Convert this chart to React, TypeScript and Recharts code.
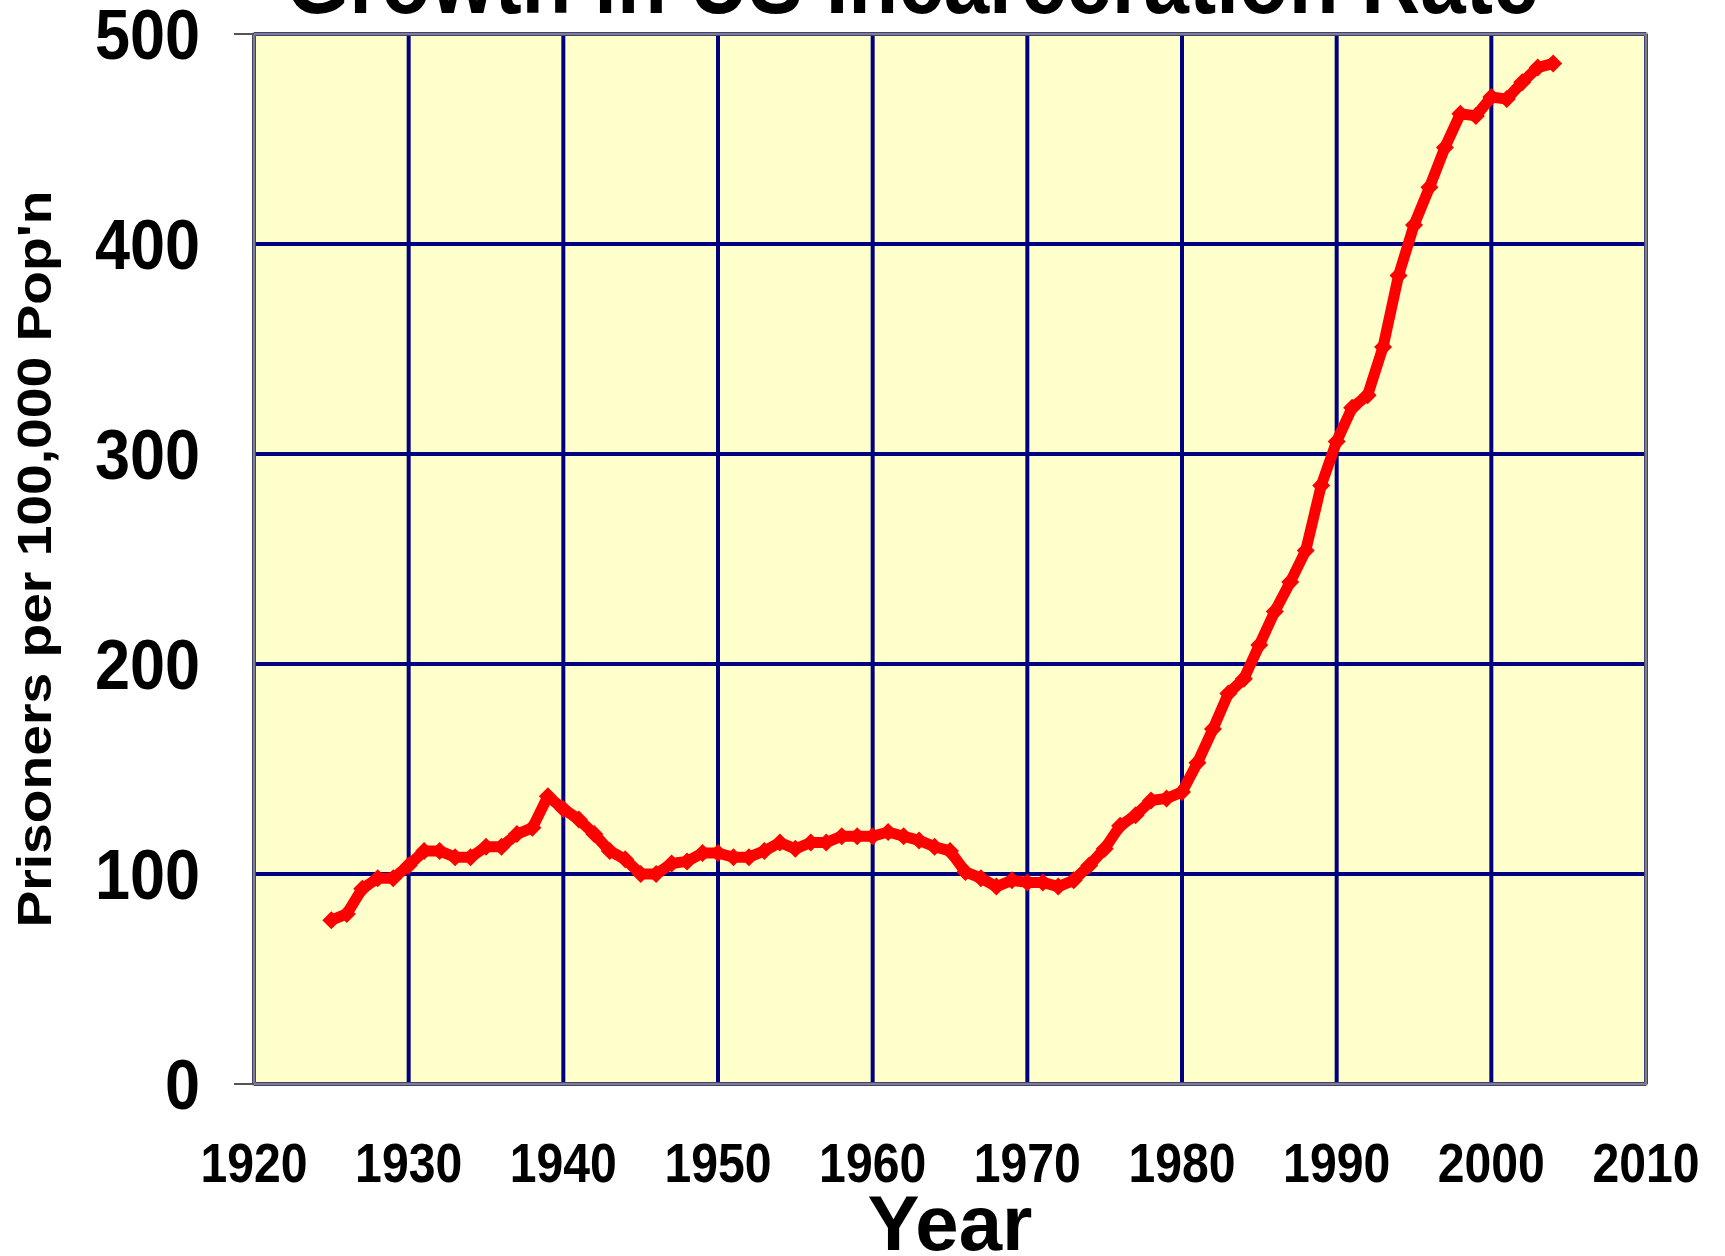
import React from 'react';
import { LineChart, Line, XAxis, YAxis, CartesianGrid, ReferenceArea, Label } from 'recharts';

const years = [
    1925, 1926, 1927, 1928, 1929, 1930, 1931, 1932, 1933, 1934, 1935, 1936, 1937, 1938, 1939,
    1940, 1941, 1942, 1943, 1944, 1945, 1946, 1947, 1948, 1949, 1950, 1951, 1952, 1953, 1954,
    1955, 1956, 1957, 1958, 1959, 1960, 1961, 1962, 1963, 1964, 1965, 1966, 1967, 1968, 1969,
    1970, 1971, 1972, 1973, 1974, 1975, 1976, 1977, 1978, 1979, 1980, 1981, 1982, 1983, 1984,
    1985, 1986, 1987, 1988, 1989, 1990, 1991, 1992, 1993, 1994, 1995, 1996, 1997, 1998, 1999,
    2000, 2001, 2002, 2003, 2004,
];

const rates = [
    78, 81, 93, 98, 98, 104, 111, 111, 108, 108, 113, 113, 119, 122, 137,
    131, 126, 119, 111, 107, 100, 100, 105, 106, 110, 110, 108, 108, 111, 115,
    112, 115, 115, 118, 118, 118, 120, 118, 116, 113, 111, 101, 98, 94, 97,
    96, 96, 94, 97, 104, 112, 123, 128, 135, 136, 139, 153, 169, 186, 193,
    209, 225, 239, 254, 285, 306, 322, 328, 351, 385, 409, 427, 446, 462, 461,
    470, 469, 477, 484, 486,
];

const yearTicks = [1920, 1930, 1940, 1950, 1960, 1970, 1980, 1990, 2000, 2010];
const rateTicks = [0, 100, 200, 300, 400, 500];

const title = 'Growth in US Incarceration Rate';
const xTitle = 'Year';
const yTitle = "Prisoners per 100,000 Pop'n";

const data = years.map((year, i) => ({ year, rate: rates[i] }));

const FONT = '"Liberation Sans", Arial, sans-serif';
const SQUEEZE = 0.86;

const Diamond = ({ cx, cy }: any) => {
    if (cx == null || cy == null) return null;
    const s = 9;
    return <polygon points={`${cx},${cy - s} ${cx + s},${cy} ${cx},${cy + s} ${cx - s},${cy}`} fill="#FF0000" />;
};

const YTick = ({ x, y, payload }: any) => (
    <g>
        {(payload.value === 0 || payload.value === 500) &&
            <line x1={234} x2={254} y1={y} y2={y} stroke="#555" strokeWidth={2} />}
        <text transform={`translate(${x},${y}) scale(0.9,1)`} textAnchor="end" dy="0.36em"
            fontFamily={FONT} fontWeight="bold" fontSize={70} fill="#000">{payload.value}</text>
    </g>
);

const XTick = ({ x, y, payload }: any) => (
    <text transform={`translate(${x},${y}) scale(${SQUEEZE},1)`} textAnchor="middle" dy="0.71em"
        fontFamily={FONT} fontWeight="bold" fontSize={56} fill="#000">{payload.value}</text>
);

const XTitle = ({ viewBox }: any) => (
    <text x={viewBox.x + viewBox.width / 2} y={viewBox.y + 166}
        textAnchor="middle" fontFamily={FONT} fontWeight="bold" fontSize={78} fill="#000">{xTitle}</text>
);

const YTitle = ({ viewBox }: any) => (
    <text transform={`translate(51,${viewBox.y + viewBox.height / 2}) rotate(-90) scale(1.15,1)`}
        textAnchor="middle" fontFamily={FONT} fontWeight="bold" fontSize={48} fill="#000">{yTitle}</text>
);

const App = () => (
    <div style={{ position: 'absolute', top: 0, left: 0, width: 1725, height: 1256, overflow: 'hidden', background: '#fff' }}>
        <LineChart width={1725} height={1256} data={data}
            margin={{ top: 34, right: 79, bottom: 0, left: 0 }}>
            <CartesianGrid stroke="#000080" strokeWidth={4} fill="#FFFFCC" />
            <XAxis dataKey="year" type="number" domain={[1920, 2010]} ticks={yearTicks}
                height={172} tickSize={0} tickMargin={58} tickLine={false} axisLine={false}
                tick={<XTick />} interval={0}>
                <Label content={<XTitle />} />
            </XAxis>
            <YAxis type="number" domain={[0, 500]} ticks={rateTicks} width={254}
                tickSize={20} tickMargin={34} tickLine={false} axisLine={false}
                tick={<YTick />} interval={0}>
                <Label content={<YTitle />} />
            </YAxis>
            <ReferenceArea x1={1920} x2={2010} y1={0} y2={500} fill="none" stroke="#808080" strokeWidth={3} ifOverflow="visible" />
            <Line type="linear" dataKey="rate" stroke="#FF0000" strokeWidth={11} strokeLinejoin="round"
                dot={<Diamond />} activeDot={false} isAnimationActive={false} />
        </LineChart>
        <svg width={1725} height={1256} style={{ position: 'absolute', top: 0, left: 0, pointerEvents: 'none' }}>
            <text transform={`translate(912,13) scale(${SQUEEZE},1)`} textAnchor="middle"
                fontFamily={FONT} fontWeight="bold" fontSize={95} fill="#000">{title}</text>
        </svg>
    </div>
);

export default App;
